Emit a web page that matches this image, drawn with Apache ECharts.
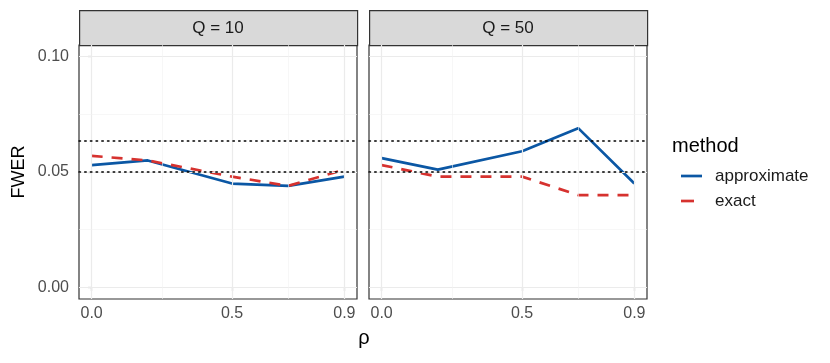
<!DOCTYPE html>
<html>
<head>
<meta charset="utf-8">
<script src="https://cdn.jsdelivr.net/npm/echarts@6/dist/echarts.min.js"></script>
<style>
  html, body { margin: 0; padding: 0; background: #fff; }
</style>
</head>
<body>
<div id="main" style="width: 830px;height:363px;"></div>
<script type="text/javascript">
    // data
    var rho = [0.0, 0.2, 0.5, 0.7, 0.9];
    var panels = ['Q = 10', 'Q = 50'];
    var approxQ10 = [0.053, 0.055, 0.045, 0.044, 0.048];
    var exactQ10 = [0.057, 0.055, 0.048, 0.044, 0.051];
    var approxQ50 = [0.056, 0.051, 0.059, 0.069, 0.045];
    var exactQ50 = [0.053, 0.048, 0.048, 0.040, 0.040];
    var xTicks = [0.0, 0.5, 0.9];
    var xMinor = [0.25, 0.7];
    var yTicks = [0.00, 0.05, 0.10];
    var yMinor = [0.025, 0.075];
    var refLines = [0.05, 0.0636];

    var blue = '#0b57a4';
    var red = '#d6322f';
    var font = 'Liberation Sans, Arial, sans-serif';

    var panelLeft = [79, 369];
    var panelW = 278;
    var panelTop = 45, panelH = 254;

    var myChart = echarts.init(document.getElementById('main'));

    function pairs(xs, ys) {
        return xs.map(function (x, i) { return [x, ys[i]]; });
    }

    var grids = [], xAxes = [], yAxes = [], series = [], graphics = [];
    var dataSets = [[approxQ10, exactQ10], [approxQ50, exactQ50]];

    panels.forEach(function (name, p) {
        grids.push({
            left: panelLeft[p], top: panelTop, width: panelW, height: panelH,
            show: true, borderColor: '#333', borderWidth: 1.2, backgroundColor: 'transparent'
        });
        xAxes.push({
            type: 'value', gridIndex: p, min: -0.045, max: 0.945,
            axisLine: { show: false },
            splitLine: { show: false },
            axisTick: { show: true, length: 4, customValues: xTicks, lineStyle: { color: '#333', width: 1.1 } },
            axisLabel: {
                customValues: xTicks, margin: 7, color: '#4d4d4d', fontSize: 16, fontFamily: font,
                formatter: function (v) { return v.toFixed(1); }
            }
        });
        yAxes.push({
            type: 'value', gridIndex: p, min: -0.005, max: 0.105,
            axisLine: { show: false },
            splitLine: { show: false },
            axisTick: { show: p === 0, length: 4, customValues: yTicks, lineStyle: { color: '#333', width: 1.1 } },
            axisLabel: {
                show: p === 0, customValues: yTicks, margin: 10, color: '#4d4d4d', fontSize: 16, fontFamily: font,
                formatter: function (v) { return v.toFixed(2); }
            }
        });

        // grid lines
        var major = xTicks.map(function (v) { return { xAxis: v }; })
            .concat(yTicks.map(function (v) { return { yAxis: v }; }));
        var minor = xMinor.map(function (v) { return { xAxis: v }; })
            .concat(yMinor.map(function (v) { return { yAxis: v }; }));
        series.push({
            type: 'line', xAxisIndex: p, yAxisIndex: p, data: [], silent: true, z: 1,
            markLine: {
                silent: true, symbol: 'none', label: { show: false }, animation: false, precision: 4,
                lineStyle: { color: '#ebebeb', width: 1.2, type: 'solid' }, data: major
            }
        });
        series.push({
            type: 'line', xAxisIndex: p, yAxisIndex: p, data: [], silent: true, z: 1,
            markLine: {
                silent: true, symbol: 'none', label: { show: false }, animation: false, precision: 4,
                lineStyle: { color: '#f2f2f2', width: 0.6, type: 'solid' }, data: minor
            }
        });
        // dotted reference lines
        series.push({
            type: 'line', xAxisIndex: p, yAxisIndex: p, data: [], silent: true, z: 2,
            markLine: {
                silent: true, symbol: 'none', label: { show: false }, animation: false, precision: 4,
                lineStyle: { color: '#000', width: 1.5, type: [1.5, 4.2], cap: 'round' },
                data: refLines.map(function (v) { return { yAxis: v }; })
            }
        });

        series.push({
            name: 'approximate', type: 'line', xAxisIndex: p, yAxisIndex: p, z: 3,
            data: pairs(rho, dataSets[p][0]), showSymbol: false, animation: false,
            lineStyle: { color: blue, width: 2.7 }, itemStyle: { color: blue }
        });
        series.push({
            name: 'exact', type: 'line', xAxisIndex: p, yAxisIndex: p, z: 4,
            data: pairs(rho, dataSets[p][1]), showSymbol: false, animation: false,
            lineStyle: { color: red, width: 2.7, type: [11, 9] }, itemStyle: { color: red }
        });

        // facet strip
        graphics.push({
            type: 'rect', left: panelLeft[p], top: 10,
            shape: { width: panelW, height: 35 },
            style: { fill: '#d9d9d9', stroke: '#333', lineWidth: 1.2 }
        });
        graphics.push({
            type: 'text', x: panelLeft[p] + panelW / 2, y: 28,
            style: { text: name, fill: '#1a1a1a', font: '17px ' + font, align: 'center', verticalAlign: 'middle' }
        });
    });

    // axis titles
    graphics.push({
        type: 'text', x: 19, y: 172, rotation: Math.PI / 2,
        style: { text: 'FWER', fill: '#000', font: '18px ' + font, align: 'center', verticalAlign: 'middle' }
    });
    graphics.push({
        type: 'text', x: 364, y: 338,
        style: { text: 'ρ', fill: '#000', font: '20px ' + font, align: 'center', verticalAlign: 'middle' }
    });

    // legend
    graphics.push({
        type: 'text', x: 672, y: 146,
        style: { text: 'method', fill: '#000', font: '20px ' + font, align: 'left', verticalAlign: 'middle' }
    });
    graphics.push({
        type: 'line', shape: { x1: 681, y1: 176, x2: 702, y2: 176 },
        style: { stroke: blue, lineWidth: 2.7 }
    });
    graphics.push({
        type: 'text', x: 715, y: 176,
        style: { text: 'approximate', fill: '#1a1a1a', font: '17px ' + font, align: 'left', verticalAlign: 'middle' }
    });
    graphics.push({
        type: 'line', shape: { x1: 681, y1: 201, x2: 694, y2: 201 },
        style: { stroke: red, lineWidth: 2.7 }
    });
    graphics.push({
        type: 'text', x: 715, y: 201,
        style: { text: 'exact', fill: '#1a1a1a', font: '17px ' + font, align: 'left', verticalAlign: 'middle' }
    });

    var option = {
        animation: false,
        grid: grids,
        xAxis: xAxes,
        yAxis: yAxes,
        series: series,
        graphic: graphics
    };

    myChart.setOption(option);
</script>
</body>
</html>
